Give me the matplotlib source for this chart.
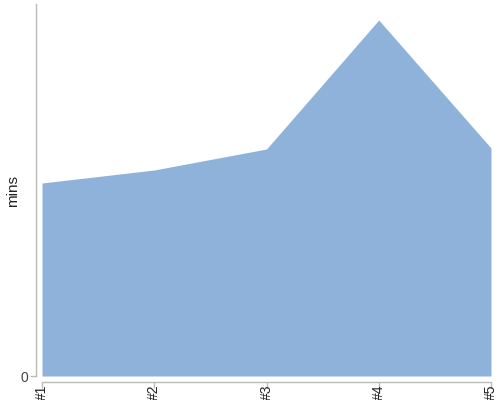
import matplotlib
matplotlib.use('Agg')
import matplotlib.pyplot as plt

plt.rcParams['font.family'] = ['Liberation Sans', 'DejaVu Sans']

# data
labels = ['#1', '#2', '#3', '#4', '#5']
mins = [19.3, 20.6, 22.7, 35.6, 22.8]
y_top = 37.2

fig = plt.figure(figsize=(5, 4), dpi=100)
ax = fig.add_axes([42 / 500, 24 / 400, 449 / 500, 372 / 400])

x = list(range(len(labels)))
ax.fill_between(x, 0, mins, color='#8fb2da', linewidth=0)

ax.set_xlim(0, len(labels) - 1)
ax.set_ylim(0, y_top)
ax.set_xticks(x)
ax.set_xticklabels(labels, fontsize=6.5, color='#222')
ax.set_yticks([0])
ax.set_yticklabels(['0'], fontsize=11, color='#444')

for side in ['top', 'right']:
    ax.spines[side].set_visible(False)
for side in ['left', 'bottom']:
    ax.spines[side].set_position(('outward', 4))
    ax.spines[side].set_color('#bbbbbb')
    ax.spines[side].set_linewidth(1)
ax.tick_params(axis='both', colors='#bbbbbb', length=4, width=1, pad=2)
ax.tick_params(axis='x', labelcolor='#222', labelrotation=90, pad=-2)
ax.tick_params(axis='y', labelcolor='#444')

fig.text(13 / 500, (400 - 191) / 400, 'mins', rotation=90, fontsize=11,
         color='#222', ha='center', va='center')

fig.savefig('out.png', dpi=100)
